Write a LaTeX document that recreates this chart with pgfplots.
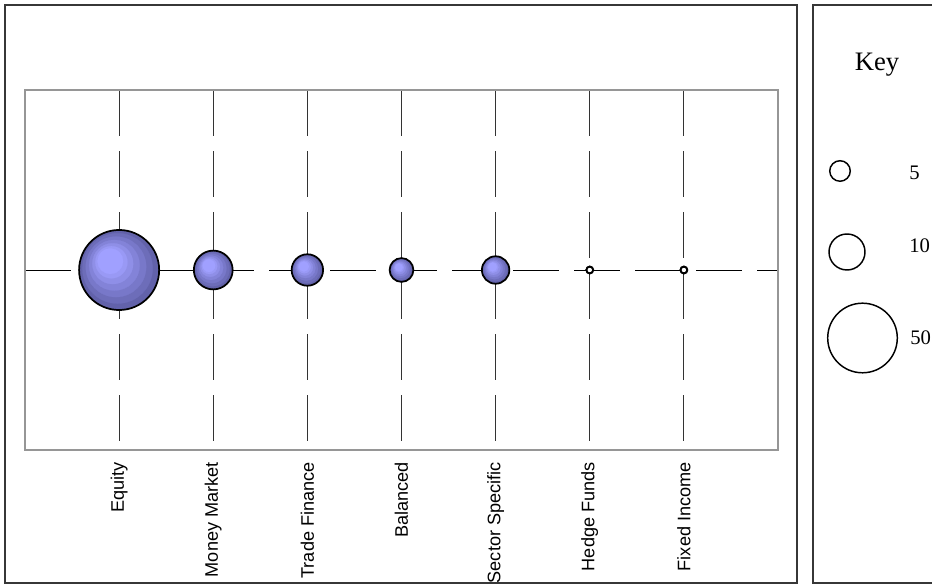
\documentclass[border=0pt]{standalone}
\usepackage{pgfplots}
\usepackage{pgfplotstable}
\pgfplotsset{compat=1.18}
\usepackage{fontspec}
\setmainfont{Liberation Serif}
\setsansfont{Liberation Sans}
\definecolor{bubin}{RGB}{160,160,255}
\definecolor{bubout}{RGB}{98,98,170}
\definecolor{frame}{RGB}{55,55,55}
\definecolor{axframe}{RGB}{150,150,150}
\pgfplotstableread{
x v
1 68
2 16
3 10.5
4 6
5 8
6 0.5
7 0.5
}\bubbles
\pgfplotstableread{
x y r
840 417 7.7
847 336 13.5
862.5 250 26.1
}\keytab
\begin{document}
\begin{tikzpicture}[x=0.75pt,y=0.75pt]
\useasboundingbox (0,0) rectangle (932,588);
\clip (0,0) rectangle (932,588);
\draw[line width=1.1pt, frame] (5,5) rectangle (797,583);
\draw[line width=1.1pt, frame] (813,5) rectangle (980,583);
\begin{axis}[
  at={(18.75pt,103.5pt)}, anchor=south west,
  scale only axis, width=564.75pt, height=270pt,
  xmin=0, xmax=8, ymin=-1, ymax=1,
  xtick={1,...,7},
  xticklabels={Equity,Money Market,Trade Finance,Balanced,Sector Specific,Hedge Funds,Fixed Income},
  ytick={0}, yticklabels={},
  major tick length=0pt,
  xmajorgrids, ymajorgrids,
  x grid style={black!80, line width=0.7pt, dash pattern=on 34.5pt off 11.25pt, dash phase=39pt},
  y grid style={black, line width=0.7pt, dash pattern=on 34.5pt off 11.25pt},
  axis line style={draw=axframe, line width=1.3pt},
  xticklabel style={rotate=90, anchor=east, inner sep=0pt, font=\sffamily\fontsize{13.6}{14}\selectfont},
  xticklabel shift=9pt,
  clip=false,
]
\pgfplotsinvokeforeach{0,18,36,54,72,88,100}{
\addplot[scatter, only marks, mark=*,
  restrict expr to domain={\thisrow{v}}{1:1000},
  mark options={draw=bubin!#1!bubout, fill=bubin!#1!bubout, line width=0.2pt},
  visualization depends on={3.64*sqrt(\thisrow{v}) \as \rad},
  scatter/@pre marker code/.code={\scope[/tikz/mark size={(1-0.0068*#1)*\rad pt}, xshift={-0.0022*#1*\rad pt}, yshift={0.0022*#1*\rad pt}]},
  scatter/@post marker code/.code={\endscope},
] table[x=x, y expr=0, meta=v] \bubbles;
}
\addplot[scatter, only marks, mark=*,
  mark options={draw=black, fill=white, line width=1.3pt},
  restrict expr to domain={\thisrow{v}}{0:1},
  visualization depends on={3.64*sqrt(\thisrow{v}) \as \rad},
  scatter/@pre marker code/.code={\scope[/tikz/mark size=\rad pt]},
  scatter/@post marker code/.code={\endscope},
] table[x=x, y expr=0, meta=v] \bubbles;
\addplot[scatter, only marks, mark=o,
  mark options={draw=black, fill=none, line width=1.3pt},
  visualization depends on={3.64*sqrt(\thisrow{v}) \as \rad},
  scatter/@pre marker code/.code={\scope[/tikz/mark size=\rad pt]},
  scatter/@post marker code/.code={\endscope},
] table[x=x, y expr=0, meta=v] \bubbles;
\end{axis}
\begin{axis}[
  at={(609.75pt,3.75pt)}, anchor=south west,
  x=0.75pt, y=0.75pt,
  xmin=813, xmax=932, ymin=5, ymax=583,
  hide axis, clip=false,
]
\addplot[scatter, only marks, mark=o,
  mark options={draw=black, fill=none, line width=1.1pt},
  visualization depends on={\thisrow{r} \as \rr},
  scatter/@pre marker code/.code={\scope[/tikz/mark size=\rr pt]},
  scatter/@post marker code/.code={\endscope},
] table[x=x, y=y, meta=r] \keytab;
\node[font=\fontsize{20}{24}\selectfont] at (axis cs:877,523) {Key};
\node[anchor=west, inner sep=0pt, font=\fontsize{15.5}{18}\selectfont] at (axis cs:909,415) {5};
\node[anchor=west, inner sep=0pt, font=\fontsize{15.5}{18}\selectfont] at (axis cs:909,342) {10};
\node[anchor=west, inner sep=0pt, font=\fontsize{15.5}{18}\selectfont] at (axis cs:910,250) {50};
\end{axis}
\end{tikzpicture}
\end{document}
